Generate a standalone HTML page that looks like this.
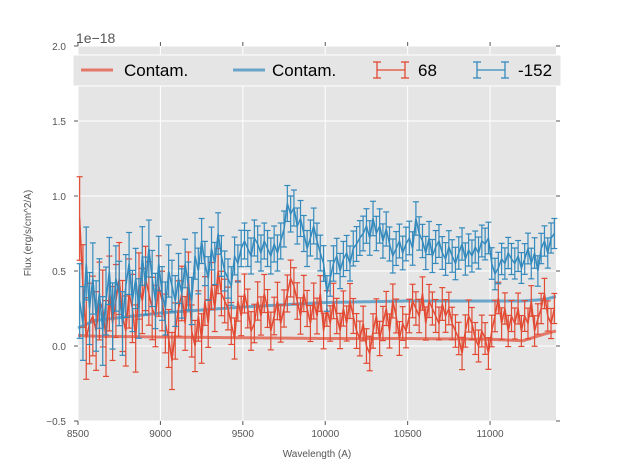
<!DOCTYPE html>
<html><head><meta charset="utf-8">
<style>
body{margin:0;background:#fff;}
svg{display:block;font-family:"Liberation Sans",sans-serif;}
</style></head>
<body>
<svg id="chart" width="617" height="467" viewBox="0 0 617 467">
<rect x="78" y="46" width="478" height="375" fill="#e5e5e5"/>
<g id="grid"></g>
<g id="ticks"></g>
<g id="series"></g>
<text x="76" y="43" font-size="14" fill="#555">1e−18</text>
<text transform="translate(31,233) rotate(-90)" text-anchor="middle" font-size="10" fill="#555">Flux (erg/s/cm^2/A)</text>
<text x="317" y="457" text-anchor="middle" font-size="10" fill="#555">Wavelength (A)</text>
<g>
<rect x="73" y="55" width="488" height="31" fill="#e5e5e5" stroke="#fff" stroke-width="1"/>
<g>
<line x1="81" y1="70" x2="113" y2="70" stroke="#E24A33" stroke-opacity="0.7" stroke-width="3"/>
<text x="124" y="76" font-size="17">Contam.</text></g>
<g>
<line x1="233" y1="70" x2="265" y2="70" stroke="#348ABD" stroke-opacity="0.7" stroke-width="3"/>
<text x="272" y="76" font-size="17">Contam.</text></g>
<g stroke="#E24A33" stroke-width="1.3">
<line x1="377" y1="70" x2="405" y2="70"/><line x1="377" y1="62" x2="377" y2="78"/><line x1="405" y1="62" x2="405" y2="78"/>
<line x1="373" y1="62" x2="381" y2="62"/><line x1="373" y1="78" x2="381" y2="78"/><line x1="401" y1="62" x2="409" y2="62"/><line x1="401" y1="78" x2="409" y2="78"/>
<text x="418" y="76" font-size="17" stroke="none" fill="#000">68</text></g>
<g stroke="#348ABD" stroke-width="1.3">
<line x1="477" y1="70" x2="505" y2="70"/><line x1="477" y1="62" x2="477" y2="78"/><line x1="505" y1="62" x2="505" y2="78"/>
<line x1="473" y1="62" x2="481" y2="62"/><line x1="473" y1="78" x2="481" y2="78"/><line x1="501" y1="62" x2="509" y2="62"/><line x1="501" y1="78" x2="509" y2="78"/>
<text x="518" y="76" font-size="17" stroke="none" fill="#000">-152</text></g>
</g>
</svg>
<script>
const xTicks=[8500,9000,9500,10000,10500,11000];
const yTicks=[-0.5,0,0.5,1.0,1.5,2.0];
const yTickLabels=["−0.5","0.0","0.5","1.0","1.5","2.0"];
const wStart=8510, wStep=20;
const blueFlux=[0.30,0.15,0.55,0.25,0.45,0.20,0.35,0.10,0.30,0.50,
0.20,0.45,0.35,0.15,0.40,0.55,0.30,0.45,0.25,0.60,
0.40,0.65,0.45,0.30,0.55,0.35,0.25,0.50,0.40,0.30,
0.45,0.35,0.55,0.40,0.30,0.60,0.50,0.70,0.55,0.45,
0.65,0.55,0.75,0.60,0.50,0.45,0.40,0.60,0.55,0.65,
0.70,0.65,0.60,0.72,0.68,0.62,0.70,0.65,0.60,0.68,
0.62,0.70,0.78,0.95,0.88,0.92,0.80,0.85,0.75,0.65,
0.72,0.80,0.70,0.62,0.55,0.35,0.45,0.55,0.60,0.50,
0.58,0.62,0.55,0.65,0.68,0.72,0.75,0.80,0.72,0.85,
0.75,0.80,0.70,0.78,0.68,0.60,0.65,0.70,0.62,0.68,
0.72,0.65,0.85,0.75,0.70,0.62,0.72,0.60,0.66,0.70,
0.62,0.58,0.66,0.60,0.55,0.62,0.68,0.58,0.64,0.60,
0.66,0.62,0.70,0.68,0.72,0.55,0.48,0.52,0.58,0.55,
0.62,0.58,0.55,0.60,0.52,0.58,0.65,0.55,0.62,0.50,
0.65,0.70,0.62,0.72,0.75];
const redFlux=[0.85,0.40,0.05,0.15,0.20,0.10,0.30,0.25,0.05,0.35,
0.15,0.30,0.45,0.20,0.10,0.35,0.25,0.05,0.40,0.30,
0.45,0.35,0.25,0.20,0.40,0.30,0.15,0.05,-0.10,0.10,
0.25,0.35,0.15,0.45,0.10,0.00,0.20,0.05,0.30,0.15,
0.40,0.25,0.50,0.35,0.30,0.25,0.15,0.05,0.30,0.20,
0.35,0.25,0.10,0.15,0.30,0.20,0.35,0.25,0.10,0.20,
0.30,0.15,0.25,0.35,0.45,0.40,0.30,0.20,0.35,0.25,
0.15,0.30,0.20,0.35,0.10,0.25,0.15,0.30,0.20,0.10,
0.25,0.15,0.30,0.20,0.10,0.05,0.15,0.00,-0.05,0.10,
0.20,0.05,0.15,0.25,0.10,0.30,0.20,0.05,0.15,0.10,
0.20,0.30,0.25,0.20,0.35,0.15,0.30,0.25,0.20,0.15,
0.28,0.20,0.25,0.15,0.10,0.05,-0.05,0.10,0.20,0.15,
0.05,0.00,0.10,0.05,-0.05,0.10,0.20,0.32,0.15,0.25,
0.10,0.20,0.15,0.25,0.10,0.20,0.15,0.30,0.10,0.18,
0.25,0.35,0.20,0.15,0.25];
const errWaves=[8500,9000,9500,9900,11400];
const blueErr=[0.25,0.18,0.12,0.12,0.10];
const redErr=[0.28,0.20,0.13,0.12,0.10];
const contamWaves=[8500,8520,8600,9000,9500,10000,10500,11000,11200,11330,11400];
const redContam=[0.07,0.07,0.065,0.06,0.055,0.05,0.05,0.045,0.035,0.08,0.1];
const blueContam=[0.12,0.13,0.17,0.22,0.26,0.29,0.30,0.30,0.30,0.31,0.33];

const X0=78,X1=556,Y0=421,Y1=46,WMIN=8500,WMAX=11400,FMIN=-0.5,FMAX=2.0;
const xs=w=>X0+(w-WMIN)/(WMAX-WMIN)*(X1-X0);
const ys=f=>Y0-(f-FMIN)/(FMAX-FMIN)*(Y0-Y1);
const NS="http://www.w3.org/2000/svg";
function mk(tag,attrs,parent){const e=document.createElementNS(NS,tag);for(const k in attrs)e.setAttribute(k,attrs[k]);parent.appendChild(e);return e;}
function interp(xa,ya,x){for(let i=0;i<xa.length-1;i++){if(x<=xa[i+1]){const t=(x-xa[i])/(xa[i+1]-xa[i]);return ya[i]+t*(ya[i+1]-ya[i]);}}return ya[ya.length-1];}
const grid=document.getElementById('grid'),ticks=document.getElementById('ticks'),ser=document.getElementById('series');
xTicks.forEach(t=>{
 const g=mk('line',{x1:xs(t),x2:xs(t),y1:Y1,y2:Y0,stroke:'#fff','stroke-width':1},grid);
 
 
 mk('line',{x1:xs(t),x2:xs(t),y1:Y0,y2:Y0+4,stroke:'#555'},ticks);
 mk('line',{x1:xs(t),x2:xs(t),y1:Y1,y2:Y1-4,stroke:'#555'},ticks);
 const tx=mk('text',{x:xs(t),y:Y0+16,'text-anchor':'middle','font-size':10,fill:'#555'},ticks);
 tx.textContent=t;
 
 
});
yTicks.forEach((t,i)=>{
 const g=mk('line',{x1:X0,x2:X1,y1:ys(t),y2:ys(t),stroke:'#fff','stroke-width':1},grid);
 
 
 mk('line',{x1:X0-4,x2:X0,y1:ys(t),y2:ys(t),stroke:'#555'},ticks);
 mk('line',{x1:X1,x2:X1+4,y1:ys(t),y2:ys(t),stroke:'#555'},ticks);
 const tx=mk('text',{x:X0-12,y:ys(t)+4,'text-anchor':'end','font-size':10,fill:'#555'},ticks);
 tx.textContent=yTickLabels[i];
 
 
});
function contam(vals,color,name){
 const pts=[];for(let w=WMIN;w<=WMAX;w+=10)pts.push(xs(w)+','+ys(interp(contamWaves,vals,w)));
 const p=mk('polyline',{points:pts.join(' '),fill:'none',stroke:color,'stroke-opacity':0.7,'stroke-width':3},ser);
 
 
}
function errSeries(flux,errs,color,name){
 const g=mk('g',{stroke:color,'stroke-width':1.2,fill:'none'},ser);
 
 
 const pts=[];
 flux.forEach((f,i)=>{
  const w=wStart+i*wStep,x=xs(w),e=interp(errWaves,errs,w);
  pts.push(x+','+ys(f));
  mk('line',{x1:x,x2:x,y1:ys(f-e),y2:ys(f+e)},g);
  mk('line',{x1:x-3,x2:x+3,y1:ys(f-e),y2:ys(f-e)},g);
  mk('line',{x1:x-3,x2:x+3,y1:ys(f+e),y2:ys(f+e)},g);
 });
 mk('polyline',{points:pts.join(' '),'stroke-width':1.5},g);
}
contam(redContam,'#E24A33','red-contam-line');
contam(blueContam,'#348ABD','blue-contam-line');
errSeries(redFlux,redErr,'#E24A33','series-68');
errSeries(blueFlux,blueErr,'#348ABD','series-minus152');
</script>
</body></html>
